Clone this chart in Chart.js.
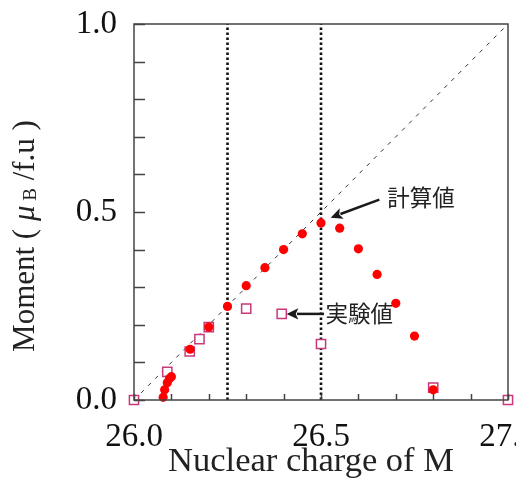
<!DOCTYPE html>
<html>
<head>
<meta charset="utf-8">
<script src="https://cdn.jsdelivr.net/npm/chart.js@4.4.1/dist/chart.umd.min.js"></script>
<style>
  html, body { margin: 0; padding: 0; background: #fff; }
  canvas { display: block; }
</style>
</head>
<body>
<canvas id="chart" width="516" height="479"></canvas>
<script>
// calculated moments (filled red circles)
const calcX = [26.078, 26.082, 26.089, 26.095, 26.100, 26.15, 26.20, 26.25, 26.30, 26.35, 26.40, 26.45, 26.50, 26.55, 26.60, 26.65, 26.70, 26.75, 26.80];
const calcY = [0.007, 0.027, 0.046, 0.057, 0.062, 0.135, 0.194, 0.249, 0.304, 0.352, 0.400, 0.442, 0.471, 0.457, 0.402, 0.334, 0.257, 0.170, 0.027];
// experimental moments (open squares)
const expX = [26.0, 26.089, 26.149, 26.175, 26.20, 26.30, 26.395, 26.50, 26.80, 27.0];
const expY = [0.0, 0.075, 0.129, 0.162, 0.194, 0.243, 0.229, 0.149, 0.033, 0.0];
// reference lines
const slaterX = [26.0, 27.0];
const slaterY = [0.0, 1.0];
const boundaries = [26.25, 26.5];
const xLabels = ["26.0", "26.5", "27.0"];
const yLabels = ["0.0", "0.5", "1.0"];

const serif = "'Liberation Serif', 'Times New Roman', serif";
const jp = "'Noto Sans CJK JP', 'Noto Sans', sans-serif";

const toPts = (xs, ys) => xs.map((x, i) => ({ x: x, y: ys[i] }));

function onList(value, list) {
  return list.some((l) => Math.abs(parseFloat(l) - value) < 1e-6);
}

// inward ticks, box frame, axis titles and the two arrows
const decorations = {
  id: "decorations",
  afterDraw(chart) {
    const ctx = chart.ctx;
    const a = chart.chartArea;
    const sx = chart.scales.x;
    const sy = chart.scales.y;
    ctx.save();
    ctx.strokeStyle = "#444";
    ctx.lineWidth = 1.5;
    ctx.beginPath();
    sx.ticks.forEach((t) => {
      const px = Math.round(sx.getPixelForValue(t.value)) + 0.5;
      ctx.moveTo(px, a.bottom);
      ctx.lineTo(px, a.bottom - 6);
    });
    sy.ticks.forEach((t) => {
      const py = Math.round(sy.getPixelForValue(t.value)) + 0.5;
      ctx.moveTo(a.left, py);
      ctx.lineTo(a.left + 11, py);
    });
    ctx.stroke();
    ctx.strokeRect(a.left, a.top, a.right - a.left, a.bottom - a.top);

    // x axis title
    ctx.fillStyle = "#222";
    ctx.font = "34.5px " + serif;
    ctx.textAlign = "center";
    ctx.textBaseline = "alphabetic";
    ctx.fillText("Nuclear charge of M", 311, 471);

    // y axis title with subscript
    ctx.textAlign = "left";
    ctx.translate(26, 236);
    ctx.rotate(-Math.PI / 2);
    const parts = [
      { t: "Moment ( ", f: "31px " + serif, dy: 0 },
      { t: "\u03bc", f: "italic 31px " + serif, dy: 0 },
      { t: " B", f: "19px " + serif, dy: 5 },
      { t: " /f.u )", f: "31px " + serif, dy: 0 },
    ];
    let total = 0;
    parts.forEach((p) => { ctx.font = p.f; p.w = ctx.measureText(p.t).width; total += p.w; });
    let cx = -total / 2;
    ctx.textBaseline = "middle";
    parts.forEach((p) => {
      ctx.font = p.f;
      ctx.fillText(p.t, cx, p.dy);
      cx += p.w;
    });
    ctx.restore();

    // annotations
    const arrow = (x1, y1, x2, y2) => {
      const p1 = { x: sx.getPixelForValue(x1), y: sy.getPixelForValue(y1) };
      const p2 = { x: sx.getPixelForValue(x2), y: sy.getPixelForValue(y2) };
      const ang = Math.atan2(p2.y - p1.y, p2.x - p1.x);
      const head = 13;
      ctx.save();
      ctx.strokeStyle = "#1a1a1a";
      ctx.fillStyle = "#1a1a1a";
      ctx.lineWidth = 2.5;
      ctx.beginPath();
      ctx.moveTo(p1.x, p1.y);
      ctx.lineTo(p2.x - Math.cos(ang) * head * 0.8, p2.y - Math.sin(ang) * head * 0.8);
      ctx.stroke();
      ctx.beginPath();
      ctx.moveTo(p2.x, p2.y);
      ctx.lineTo(p2.x - head * Math.cos(ang - 0.45), p2.y - head * Math.sin(ang - 0.45));
      ctx.lineTo(p2.x - head * 0.7 * Math.cos(ang), p2.y - head * 0.7 * Math.sin(ang));
      ctx.lineTo(p2.x - head * Math.cos(ang + 0.45), p2.y - head * Math.sin(ang + 0.45));
      ctx.closePath();
      ctx.fill();
      ctx.restore();
    };
    arrow(26.656, 0.533, 26.526, 0.485);
    arrow(26.508, 0.229, 26.408, 0.229);

    ctx.save();
    ctx.fillStyle = "#222";
    ctx.font = "22.5px " + jp;
    ctx.textBaseline = "middle";
    ctx.fillText("計算値", sx.getPixelForValue(26.677), sy.getPixelForValue(0.540));
    ctx.fillText("実験値", sx.getPixelForValue(26.512), sy.getPixelForValue(0.230));
    ctx.restore();
  },
};

const config = {
  type: "scatter",
  data: {
    datasets: [
      {
        label: "計算値",
        data: toPts(calcX, calcY),
        backgroundColor: "#ff0000",
        borderWidth: 0,
        pointRadius: 4.6,
        clip: false,
      },
      {
        label: "実験値",
        data: toPts(expX, expY),
        pointStyle: "rect",
        backgroundColor: "#ffffff",
        borderColor: "#c8387a",
        borderWidth: 1.5,
        pointRadius: 6.5,
        clip: false,
      },
      {
        data: toPts(slaterX, slaterY),
        showLine: true,
        borderColor: "#333",
        borderWidth: 1,
        borderDash: [4, 6],
        pointRadius: 0,
      },
      ...boundaries.map((b) => ({
        data: [{ x: b, y: 0 }, { x: b, y: 1 }],
        showLine: true,
        borderColor: "#111",
        borderWidth: 2.6,
        borderDash: [2.5, 2.5],
        pointRadius: 0,
      })),
    ],
  },
  options: {
    responsive: false,
    animation: false,
    layout: { padding: { top: 24, right: 4, left: 0, bottom: 0 } },
    plugins: {
      legend: { display: false },
      tooltip: { enabled: false },
    },
    scales: {
      x: {
        type: "linear",
        min: 26.0,
        max: 27.0,
        grid: { display: false, drawTicks: false },
        border: { display: false },
        ticks: {
          stepSize: 0.1,
          autoSkip: false,
          maxRotation: 0,
          padding: 18,
          color: "#111",
          font: { family: serif, size: 33 },
          callback: (v) => (onList(v, xLabels) ? v.toFixed(1) : ""),
        },
        afterFit: (scale) => {
          scale.height = 79;
          scale.paddingLeft = 0;
          scale.paddingRight = 0;
        },
      },
      y: {
        type: "linear",
        min: 0,
        max: 1.0,
        grid: { display: false, drawTicks: false },
        border: { display: false },
        ticks: {
          stepSize: 0.1,
          autoSkip: false,
          padding: 17,
          color: "#111",
          font: { family: serif, size: 33 },
          callback: (v) => (onList(v, yLabels) ? v.toFixed(1) : ""),
        },
        afterFit: (scale) => {
          scale.width = 134;
          scale.paddingTop = 0;
          scale.paddingBottom = 0;
        },
      },
    },
  },
  plugins: [decorations],
};

new Chart(document.getElementById("chart"), config);
</script>
</body>
</html>
